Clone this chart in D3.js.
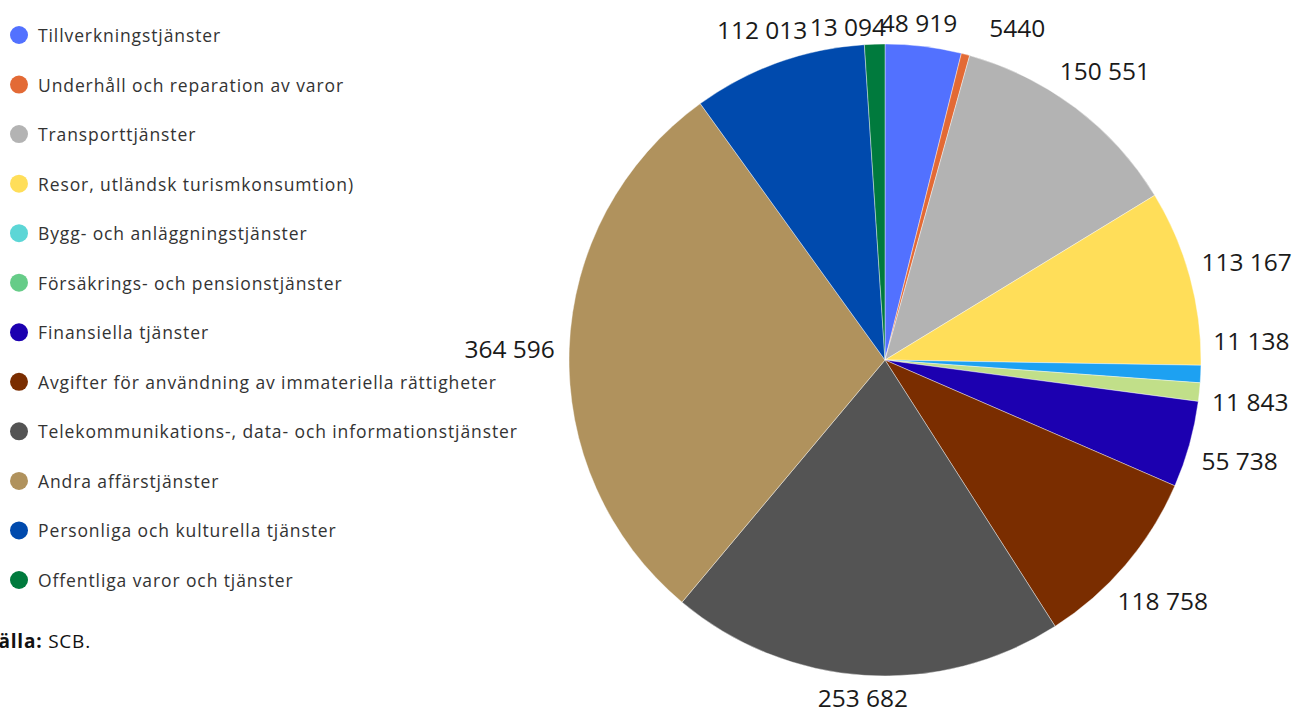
<!DOCTYPE html>
<html>
<head>
<meta charset="utf-8">
<script src="https://cdnjs.cloudflare.com/ajax/libs/d3/7.8.5/d3.min.js"></script>
<style>
  body { margin: 0; background: #fff; }
  svg { display: block; font-family: "Open Sans", sans-serif; }
</style>
</head>
<body>
<svg width="1294" height="709"></svg>
<script>
const categories = [
  "Tillverkningstjänster",
  "Underhåll och reparation av varor",
  "Transporttjänster",
  "Resor, utländsk turismkonsumtion)",
  "Bygg- och anläggningstjänster",
  "Försäkrings- och pensionstjänster",
  "Finansiella tjänster",
  "Avgifter för användning av immateriella rättigheter",
  "Telekommunikations-, data- och informationstjänster",
  "Andra affärstjänster",
  "Personliga och kulturella tjänster",
  "Offentliga varor och tjänster"
];
const values = [48919, 5440, 150551, 113167, 11138, 11843, 55738, 118758, 253682, 364596, 112013, 13094];
const sliceColors = ["#5271ff", "#e36a35", "#b3b3b3", "#ffde59", "#1da1f2", "#c1df89",
                     "#1c00b0", "#7a2d00", "#545454", "#b0925d", "#004aad", "#007a3d"];
const legendColors = ["#5271ff", "#e36a35", "#b3b3b3", "#ffde59", "#5cd6d6", "#66cc88",
                      "#1c00b0", "#7a2d00", "#545454", "#b0925d", "#004aad", "#007a3d"];
// label nudges where labels would collide
const labelNudge = [[-8, 4], [44, 3], [0, 2], [0, 0], [0, -36], [0, 4], [0, 2], [-4, 0], [0, -5], [-2, 2], [-3, 3], [-26, 8]];

const svg = d3.select("svg");
const cx = 885, cy = 360, radius = 316;

const fmt = (v) => {
  const s = String(v);
  return s.length > 4 ? s.replace(/\B(?=(\d{3})+(?!\d))/g, " ") : s;
};

const data = categories.map((c, i) => ({ name: c, value: values[i], i }));

const pie = d3.pie().sort(null).value((d) => d.value);
const arc = d3.arc().innerRadius(0).outerRadius(radius);
const arcs = pie(data);

const g = svg.append("g").attr("transform", `translate(${cx},${cy})`);

g.selectAll("path")
  .data(arcs)
  .enter()
  .append("path")
  .attr("d", arc)
  .attr("fill", (d) => sliceColors[d.data.i])
  .attr("stroke", "#fff")
  .attr("stroke-width", 0.4);

const labels = g.selectAll("text.lbl")
  .data(arcs)
  .enter()
  .append("text")
  .attr("class", "lbl")
  .attr("text-anchor", "middle")
  .attr("dominant-baseline", "central")
  .attr("font-size", 24.5)
  .attr("fill", "#1a1a1a")
  .text((d) => fmt(d.data.value));

labels.each(function (d) {
  const bb = this.getBBox();
  const a = (d.startAngle + d.endAngle) / 2;
  const s = Math.sin(a), c = Math.cos(a);
  const R = radius + 12 + (bb.width / 2) * Math.abs(s) + 12 * Math.abs(c);
  const n = labelNudge[d.data.i];
  d3.select(this)
    .attr("x", R * s + n[0])
    .attr("y", -R * c + n[1]);
});

// legend
const legend = svg.append("g");
const rowY = d3.scalePoint().domain(categories).range([35, 580]);

const item = legend.selectAll("g")
  .data(data)
  .enter()
  .append("g")
  .attr("transform", (d) => `translate(0,${rowY(d.name)})`);

item.append("circle")
  .attr("cx", 19)
  .attr("cy", 0)
  .attr("r", 9)
  .attr("fill", (d) => legendColors[d.i]);

item.append("text")
  .attr("x", 38)
  .attr("y", 0)
  .attr("dominant-baseline", "central")
  .attr("font-size", 17.5)
  .attr("letter-spacing", 0.9)
  .attr("fill", "#333")
  .text((d) => d.name);

// source
const src = svg.append("text")
  .attr("x", -15)
  .attr("y", 641)
  .attr("dominant-baseline", "central")
  .attr("font-size", 19)
  .attr("letter-spacing", 0.8)
  .attr("fill", "#111");
src.append("tspan").attr("font-weight", "bold").text("Källa:");
src.append("tspan").text(" SCB.");
</script>
</body>
</html>
